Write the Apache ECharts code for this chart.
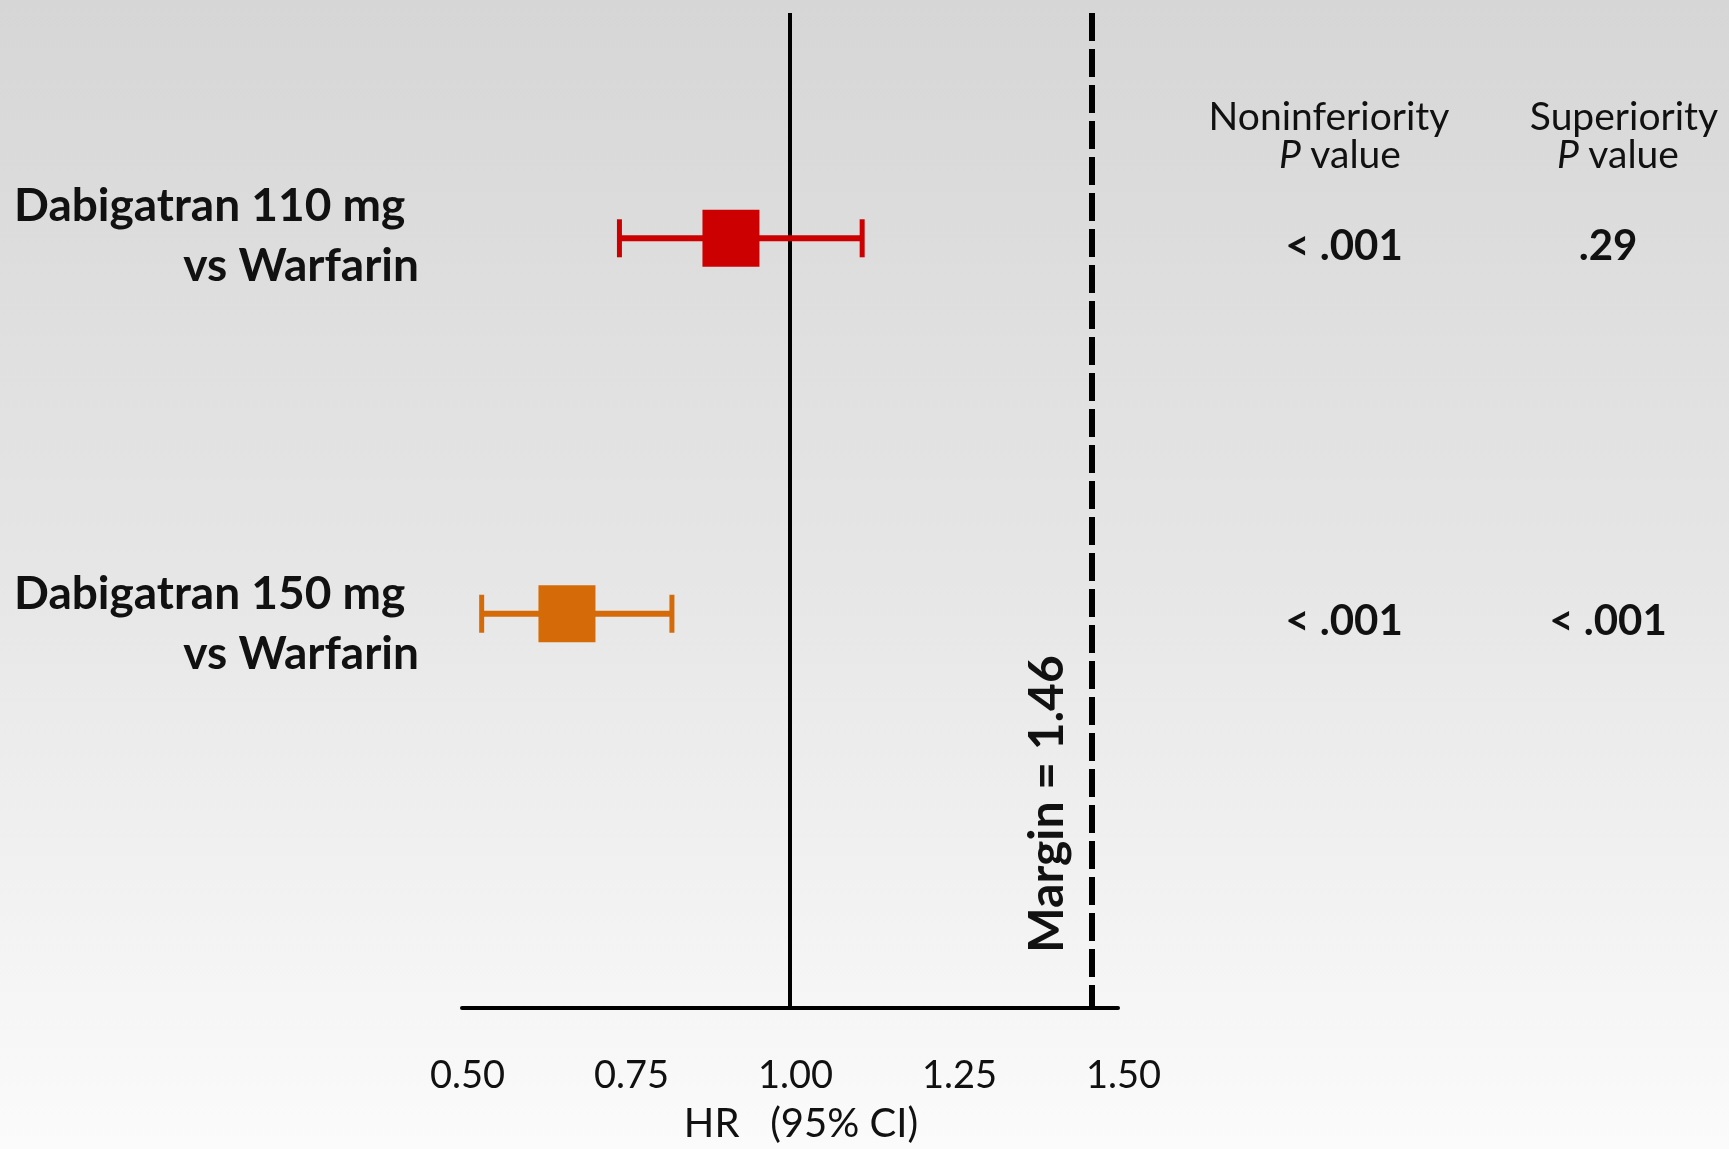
<!DOCTYPE html>
<html><head><meta charset="utf-8">
<script src="https://cdn.jsdelivr.net/npm/echarts@6/dist/echarts.min.js"></script>
<style>html,body{margin:0;padding:0;}#c{width:1729px;height:1149px;}</style>
</head><body><div id="c"></div>
<script>
const rowLine1 = ['Dabigatran 110 mg', 'Dabigatran 150 mg'];
const rowLine2 = ['vs Warfarin', 'vs Warfarin'];
const rowIndex = [1, 2];
const hr = [0.91, 0.66];
const ciLow = [0.74, 0.53];
const ciHigh = [1.11, 0.82];
const colors = ['#CC0000', '#D46B08'];
const nonInfP = ['< .001', '< .001'];
const supP = ['.29', '< .001'];
const tickValues = [0.50, 0.75, 1.00, 1.25, 1.50];
const margin = 1.46;
const headers = [['Noninferiority', 'value'], ['Superiority', 'value']];

const FONT = 'Lato, "Open Sans", sans-serif';
const chart = echarts.init(document.getElementById('c'), null, {renderer: 'canvas'});

const data = hr.map((v, i) => [rowIndex[i], v, ciLow[i], ciHigh[i], i]);

const option = {
  backgroundColor: new echarts.graphic.LinearGradient(0, 0, 0, 1, [
    {offset: 0, color: '#d6d6d6'},
    {offset: 0.5, color: '#e6e6e6'},
    {offset: 1, color: '#fbfbfb'}
  ]),
  animation: false,
  grid: {left: 462, right: 611, top: 13, bottom: 140},
  xAxis: {
    type: 'value', min: tickValues[0], max: tickValues[tickValues.length - 1], interval: 0.25,
    axisLine: {show: true, lineStyle: {color: '#000', width: 4}},
    axisTick: {show: false},
    splitLine: {show: false},
    axisLabel: {
      margin: 49, fontSize: 38, color: '#111', fontFamily: FONT, padding: [0, 0, 0, 11],
      formatter: v => v.toFixed(2)
    },
    name: 'HR   (95% CI)', nameLocation: 'middle', nameGap: 96,
    nameTextStyle: {fontSize: 40, color: '#111', fontFamily: FONT, padding: [0, 0, 0, 22]}
  },
  yAxis: {
    type: 'value', min: 0.4, max: 3.05, inverse: true, show: false
  },
  series: [
    {
      type: 'custom',
      data: data,
      encode: {x: [1, 2, 3], y: 0},
      renderItem: function (params, api) {
        const y = api.value(0);
        const c = api.coord([api.value(1), y]);
        const lo = api.coord([api.value(2), y]);
        const hi = api.coord([api.value(3), y]);
        const col = colors[api.value(4)];
        const capH = 38, sq = 57;
        return {
          type: 'group',
          children: [
            {type: 'line', shape: {x1: lo[0], y1: c[1], x2: hi[0], y2: c[1]}, style: {stroke: col, lineWidth: 6}},
            {type: 'line', shape: {x1: lo[0], y1: c[1] - capH / 2, x2: lo[0], y2: c[1] + capH / 2}, style: {stroke: col, lineWidth: 5}},
            {type: 'line', shape: {x1: hi[0], y1: c[1] - capH / 2, x2: hi[0], y2: c[1] + capH / 2}, style: {stroke: col, lineWidth: 5}},
            {type: 'rect', shape: {x: c[0] - sq / 2, y: c[1] - sq / 2, width: sq, height: sq}, style: {fill: col}}
          ]
        };
      },
      markLine: {
        silent: true, symbol: 'none', label: {show: false},
        data: [
          {xAxis: 1, lineStyle: {color: '#000', width: 4, type: 'solid'}},
          {xAxis: margin, lineStyle: {color: '#000', width: 6, type: [28, 8]}}
        ]
      },
      z: 5
    }
  ]
};
chart.setOption(option);

// Text annotations; row y taken from the chart's own scale
const labelOffsets = [[-32, 28], [-20, 40]];
const g = [];
rowIndex.forEach((r, i) => {
  const y = chart.convertToPixel({gridIndex: 0}, [1, r])[1];
  g.push({type: 'text', x: 14, y: y + labelOffsets[i][0], style: {text: rowLine1[i], font: 'bold 46px ' + FONT, fill: '#111', align: 'left', verticalAlign: 'middle'}});
  g.push({type: 'text', x: 419, y: y + labelOffsets[i][1], style: {text: rowLine2[i], font: 'bold 46px ' + FONT, fill: '#111', align: 'right', verticalAlign: 'middle'}});
  g.push({type: 'text', x: 1344, y: y + 8, style: {text: nonInfP[i], font: 'bold 42px ' + FONT, fill: '#111', align: 'center', verticalAlign: 'middle'}});
  g.push({type: 'text', x: 1608, y: y + 8, style: {text: supP[i], font: 'bold 42px ' + FONT, fill: '#111', align: 'center', verticalAlign: 'middle'}});
});
const hx = [1329, 1624];
const px = [1340, 1618];
headers.forEach((h, i) => {
  g.push({type: 'text', x: hx[i], y: 117, style: {text: h[0], font: '39px ' + FONT, fill: '#111', align: 'center', verticalAlign: 'middle'}});
  g.push({type: 'text', x: px[i], y: 155, style: {
    text: '{i|P} {n|' + h[1] + '}', align: 'center', verticalAlign: 'middle',
    rich: {i: {font: 'italic 39px ' + FONT, fill: '#111', padding: [0, 6, 0, 0]}, n: {font: '39px ' + FONT, fill: '#111'}}
  }});
});
const mx = chart.convertToPixel({gridIndex: 0}, [margin, 1])[0];
g.push({type: 'text', x: mx - 44, y: 804, rotation: Math.PI / 2, style: {
  text: 'Margin = ' + margin.toFixed(2), font: 'bold 48px ' + FONT, fill: '#111', align: 'center', verticalAlign: 'middle'
}});
chart.setOption({graphic: g});
</script></body></html>
